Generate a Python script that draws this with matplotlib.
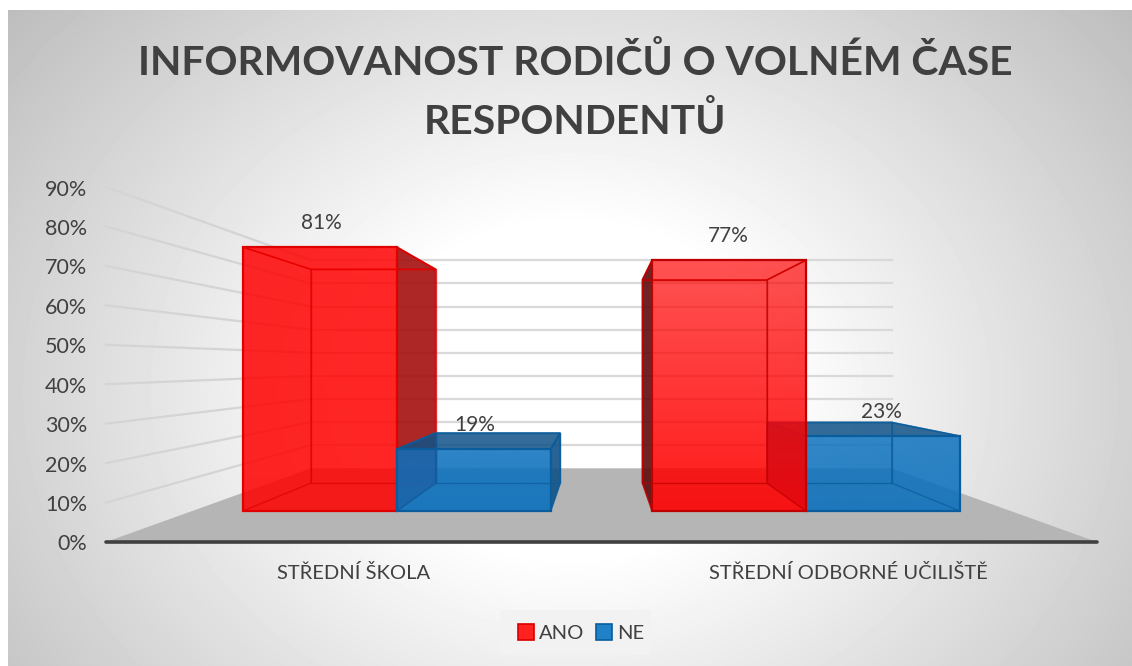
import matplotlib
matplotlib.use('Agg')
import matplotlib.pyplot as plt
from matplotlib.patches import Patch, Polygon, Rectangle
import numpy as np

plt.rcParams['font.family'] = ['Lato', 'DejaVu Sans']

categories = ['STŘEDNÍ ŠKOLA', 'STŘEDNÍ ODBORNÉ UČILIŠTĚ']
series_names = ['ANO', 'NE']
ano_values = [81, 77]
ne_values = [19, 23]
tick_values = [0, 10, 20, 30, 40, 50, 60, 70, 80, 90]
title_text = 'INFORMOVANOST RODIČŮ O VOLNÉM ČASE\nRESPONDENTŮ'

W, H = 1132, 666
text_col = '#404040'

# 3d frame in pixels, front plane and vanishing point
front_left, front_right = 106.0, 1097.0
front_base = 542.0
px_per_unit = 355.0 / 90
vx, vy = 601.0, 364.0
wall_scale = 0.586
bar_front_scale = 0.826
bar_back_scale = 0.669
cat_width = (front_right - front_left) / len(categories)
bar_width = cat_width * 0.376


def project(x, value, scale):
    y = front_base - value * px_per_unit
    return vx + scale * (x - vx), vy + scale * (y - vy)


def quad(x0, v0, s0, x1, v1, s1, x2, v2, s2, x3, v3, s3):
    return [project(x0, v0, s0), project(x1, v1, s1), project(x2, v2, s2), project(x3, v3, s3)]


def draw_box(ax, x0, x1, value, front, side, top, edge, alpha, z):
    sf, sb = bar_front_scale, bar_back_scale
    # side that sticks out of the front face is the dark one
    if x0 + x1 < 2 * vx:
        outer, inner = x1, x0
    else:
        outer, inner = x0, x1
    kw = dict(closed=True, zorder=z)
    ax.add_patch(Polygon(quad(outer, 0, sf, outer, value, sf, outer, value, sb, outer, 0, sb),
                         fc=side, ec=edge, lw=1.2, alpha=0.9, **kw))
    # top is only seen from above when it lies under the horizon
    top_fc = top if project(x0, value, sf)[1] > vy else 'none'
    ax.add_patch(Polygon(quad(x0, value, sf, x1, value, sf, x1, value, sb, x0, value, sb),
                         fc=top_fc, ec=edge, lw=1.2, alpha=0.85, **kw))

    face = quad(x0, 0, sf, x1, 0, sf, x1, value, sf, x0, value, sf)
    # front face with alpha going from top to bottom
    rgba = np.zeros((64, 2, 4))
    rgba[:, :, :3] = matplotlib.colors.to_rgb(front)
    rgba[:, :, 3] = np.linspace(alpha[0], alpha[1], 64)[:, None]
    im = ax.imshow(rgba, extent=(face[0][0], face[1][0], face[0][1], face[2][1]), zorder=z, aspect='auto',
                   interpolation='bilinear')
    clip = Polygon(face, closed=True, transform=ax.transData)
    im.set_clip_path(clip)

    # wireframe of back and inner side
    ax.add_patch(Polygon(quad(x0, 0, sb, x1, 0, sb, x1, value, sb, x0, value, sb),
                         fc='none', ec=edge, lw=1.0, alpha=0.7, **kw))
    ax.add_patch(Polygon(quad(inner, 0, sf, inner, value, sf, inner, value, sb, inner, 0, sb),
                         fc='none', ec=edge, lw=1.0, alpha=0.7, **kw))
    ax.add_patch(Polygon(face, fc='none', ec=edge, lw=1.6, **kw))


fig = plt.figure(figsize=(W / 100, H / 100), dpi=100, facecolor='white')
ax = fig.add_axes([0, 0, 1, 1])
ax.axis('off')

# radial background of the chart area
xx, yy = np.meshgrid(np.arange(8, W), np.arange(10, H))
r = np.sqrt(((xx - 570) / 640.0) ** 2 + ((yy - 390) / 520.0) ** 2)
grad = 1 - np.clip((r - 0.32) / 0.86, 0, 1) * 0.27
ax.imshow(grad, extent=(8, W, H, 10), cmap='gray', vmin=0, vmax=1, zorder=0, aspect='auto')

# floor
ax.add_patch(Polygon(quad(front_left, 0, 1, front_right, 0, 1, front_right, 0, wall_scale, front_left, 0, wall_scale),
                     closed=True, fc='#b5b5b5', ec='none', zorder=1))

# gridlines on the side wall and on the back wall
for v in tick_values[1:]:
    p0 = project(front_left, v, 1)
    p1 = project(front_left, v, wall_scale)
    p2 = project(front_right, v, wall_scale)
    ax.plot([p0[0], p1[0]], [p0[1], p1[1]], color='#d4d4d4', lw=1.6, zorder=2)
    ax.plot([p1[0], p2[0]], [p1[1], p2[1]], color='#d9d9d9', lw=1.6, zorder=2)

ax.plot([front_left, front_right], [front_base, front_base], color='#404040', lw=2.6,
        solid_capstyle='round', zorder=3)

for v in tick_values:
    ax.text(87, project(front_left, v, 1)[1] + 2.5, '%d%%' % v, ha='right', va='center', fontsize=15.5, color=text_col)

for i, name in enumerate(categories):
    ax.text(front_left + cat_width * (i + 0.5) - 0.5, 573, name, ha='center', va='center', fontsize=14.5, color=text_col)

red_style = dict(front='#ff0000', side='#a50f0f', top='#ff2020', edge='#e00000')
dark_red_style = dict(front='#ff0000', side='#5e0c0c', top='#ff2020', edge='#c00000')
blue_style = dict(front='#0a70bd', side='#0f5288', top='#0f5288', edge='#0a5c9c')

for i in range(len(categories)):
    gap = (cat_width - 2 * bar_width) / 2
    x0 = front_left + cat_width * i + gap
    x1 = x0 + bar_width
    x2 = x1 + bar_width
    if i == 0:
        draw_box(ax, x0, x1, ano_values[i], alpha=(0.85, 0.86), z=4, **red_style)
        draw_box(ax, x1, x2, ne_values[i], alpha=(0.86, 0.9), z=5, **blue_style)
    else:
        draw_box(ax, x1, x2, ne_values[i], alpha=(0.84, 0.88), z=4, **blue_style)
        draw_box(ax, x0, x1, ano_values[i], alpha=(0.68, 0.9), z=5, **dark_red_style)
    for xa, xb, v in [(x0, x1, ano_values[i]), (x1, x2, ne_values[i])]:
        lx = project((xa + xb) / 2, v, 0.821)[0]
        ly = project((xa + xb) / 2, v, bar_front_scale)[1]
        ax.text(lx, ly - 24, '%d%%' % v, ha='center', va='center', fontsize=15, color=text_col, zorder=6)

ax.text(575, 92, title_text, ha='center', va='center', fontsize=29.4, fontweight='bold', color=text_col,
        linespacing=1.6, zorder=6)

ax.add_patch(Rectangle((500, 610), 151, 45, fc='#f2f2f2', ec='none', zorder=5))
handles = [Patch(fc='#ff2020', ec='#d80000', lw=1.2), Patch(fc='#2080c8', ec='#0a5c9c', lw=1.2)]
leg = ax.legend(handles, series_names, loc='center', bbox_to_anchor=(581, 633), bbox_transform=ax.transData,
                ncol=2, frameon=False, fontsize=14.5, handlelength=0.8, handleheight=0.8, handletextpad=0.25,
                columnspacing=0.6, labelcolor=text_col)
leg.set_zorder(6)

ax.set_xlim(0, W)
ax.set_ylim(H, 0)

fig.savefig('out.png', dpi=100)
